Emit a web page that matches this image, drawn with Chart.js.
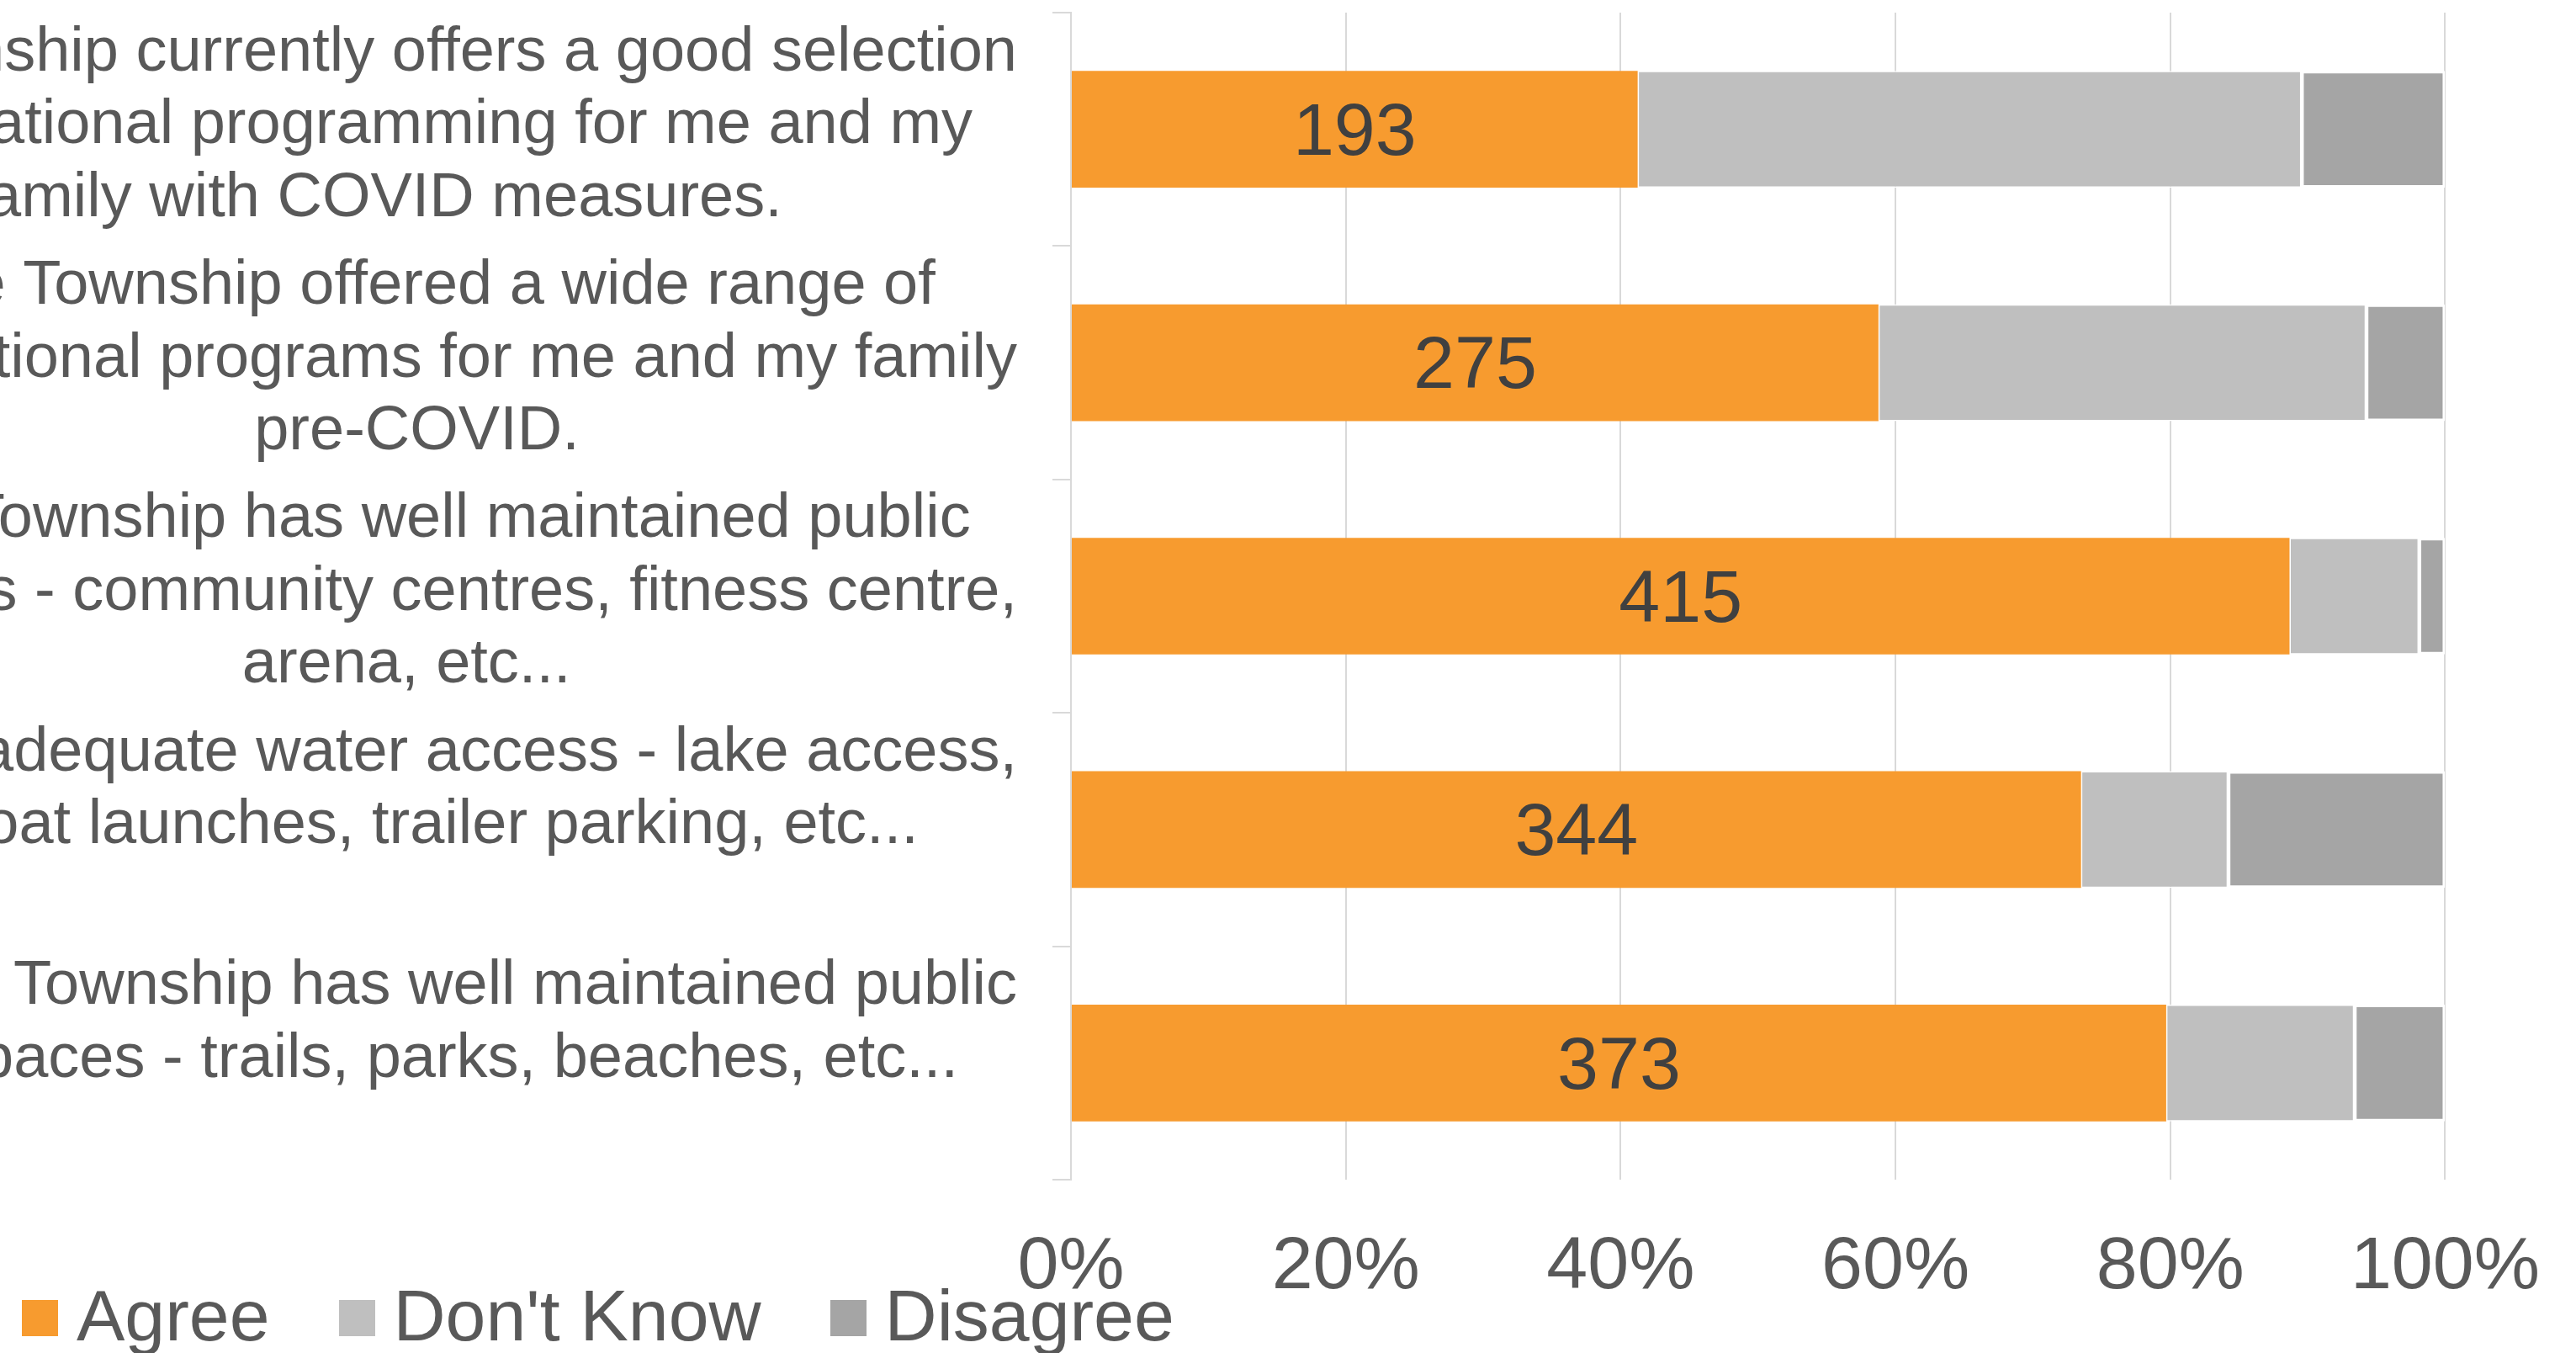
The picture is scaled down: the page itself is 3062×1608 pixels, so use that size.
<!DOCTYPE html>
<html>
<head>
<meta charset="utf-8">
<script src="https://cdn.jsdelivr.net/npm/chart.js@4.4.1/dist/chart.umd.min.js"></script>
<style>
  html, body { margin: 0; padding: 0; background: #fff; overflow: hidden; }
  body { width: 3062px; height: 1608px; position: relative; }
  #wrap { position: absolute; left: -36px; top: 0; }
  #legend {
    position: absolute; left: 26px; top: 1520px;
    display: flex; gap: 82px;
    font: 86px/86px "Liberation Sans", Arial, sans-serif; color: #595959;
    white-space: nowrap;
  }
  #legend .item { display: flex; align-items: flex-start; }
  #legend .box { width: 43px; height: 43px; margin-top: 25px; margin-right: 22px; }
</style>
</head>
<body>
<div id="wrap"><canvas id="likert" width="3107" height="1552"></canvas></div>
<div id="legend"></div>
<script>
// survey statements, one array of wrapped lines per row
const statements = [
  ['The Township currently offers a good selection', 'of recreational programming for me and my', 'family with COVID measures.'],
  ['The Township offered a wide range of', 'recreational programs for me and my family', 'pre-COVID.'],
  ['The Township has well maintained public', 'facilities - community centres, fitness centre,', 'arena, etc...'],
  ['Has adequate water access - lake access,', 'boat launches, trailer parking, etc...', ''],
  ['The Township has well maintained public', 'spaces - trails, parks, beaches, etc...', '']
];

// response counts per statement
const agree    = [193, 275, 415, 344, 373];
const dontKnow = [226, 166,  44,  50,  64];
const disagree = [ 49,  27,   9,  74,  31];

const percentTicks = [0, 20, 40, 60, 80, 100];

const totals = agree.map((a, i) => a + dontKnow[i] + disagree[i]);
const share = arr => arr.map((v, i) => v / totals[i] * 100);

const FONT = '"Liberation Sans", Arial, sans-serif';
Chart.defaults.font.family = FONT;

// category labels: each block sits against the axis, lines centred inside it
const statementLabels = {
  id: 'statementLabels',
  afterDraw(chart) {
    const y = chart.scales.y;
    const ctx = chart.ctx;
    ctx.save();
    ctx.font = '74px ' + FONT;
    ctx.fillStyle = '#595959';
    ctx.textBaseline = 'middle';
    ctx.textAlign = 'center';
    const right = y.right - 64;
    statements.forEach((lines, i) => {
      const block = Math.max(...lines.map(t => ctx.measureText(t).width));
      const cx = right - block / 2;
      const mid = y.getPixelForTick(i) - 4;
      lines.forEach((t, j) => {
        ctx.fillText(t, cx, mid + (j - (lines.length - 1) / 2) * 86.5);
      });
    });
    ctx.restore();
  }
};

// count labels inside the Agree bars
const agreeCounts = {
  id: 'agreeCounts',
  afterDatasetsDraw(chart) {
    const ctx = chart.ctx;
    const meta = chart.getDatasetMeta(0);
    ctx.save();
    ctx.font = '88px ' + FONT;
    ctx.fillStyle = '#404040';
    ctx.textAlign = 'center';
    ctx.textBaseline = 'middle';
    meta.data.forEach((bar, i) => {
      const {x, y, base} = bar.getProps(['x', 'y', 'base'], true);
      ctx.fillText(String(agree[i]), (x + base) / 2, y + 6);
    });
    ctx.restore();
  }
};

const chart = new Chart(document.getElementById('likert'), {
  type: 'bar',
  data: {
    labels: statements,
    datasets: [
      { label: 'Agree', data: share(agree), backgroundColor: '#F79B2F', borderWidth: 0 },
      { label: "Don't Know", data: share(dontKnow), backgroundColor: '#BFBFBF',
        borderColor: '#ffffff', borderWidth: 1.5, borderSkipped: false },
      { label: 'Disagree', data: share(disagree), backgroundColor: '#A5A5A5',
        borderColor: '#ffffff', borderWidth: 3, borderSkipped: false }
    ]
  },
  options: {
    indexAxis: 'y',
    responsive: false,
    animation: false,
    layout: { padding: { top: 15, right: 0, left: 0, bottom: 0 } },
    datasets: { bar: { barPercentage: 0.5, categoryPercentage: 1 } },
    scales: {
      x: {
        stacked: true,
        min: 0,
        max: 100,
        afterBuildTicks: s => { s.ticks = percentTicks.map(v => ({ value: v })); },
        afterFit: s => { s.height = 150; },
        grid: { color: '#D9D9D9', lineWidth: 2, drawTicks: false },
        border: { display: false },
        ticks: {
          color: '#595959',
          font: { size: 88 },
          padding: 52,
          maxRotation: 0,
          autoSkip: false,
          callback: v => v + '%'
        }
      },
      y: {
        stacked: true,
        afterFit: s => { s.width = 1309; },
        grid: { offset: true, drawOnChartArea: false, tickLength: 22, color: '#D9D9D9', lineWidth: 2 },
        border: { display: true, color: '#D9D9D9', width: 2 },
        ticks: { display: false }
      }
    },
    plugins: {
      legend: { display: false },
      tooltip: { enabled: false }
    }
  },
  plugins: [statementLabels, agreeCounts]
});

// legend row built from the chart's own legend items
const legendEl = document.getElementById('legend');
Chart.defaults.plugins.legend.labels.generateLabels(chart).forEach(item => {
  const el = document.createElement('div');
  el.className = 'item';
  const box = document.createElement('span');
  box.className = 'box';
  box.style.background = item.fillStyle;
  const text = document.createElement('span');
  text.textContent = item.text;
  el.append(box, text);
  legendEl.append(el);
});
</script>
</body>
</html>
